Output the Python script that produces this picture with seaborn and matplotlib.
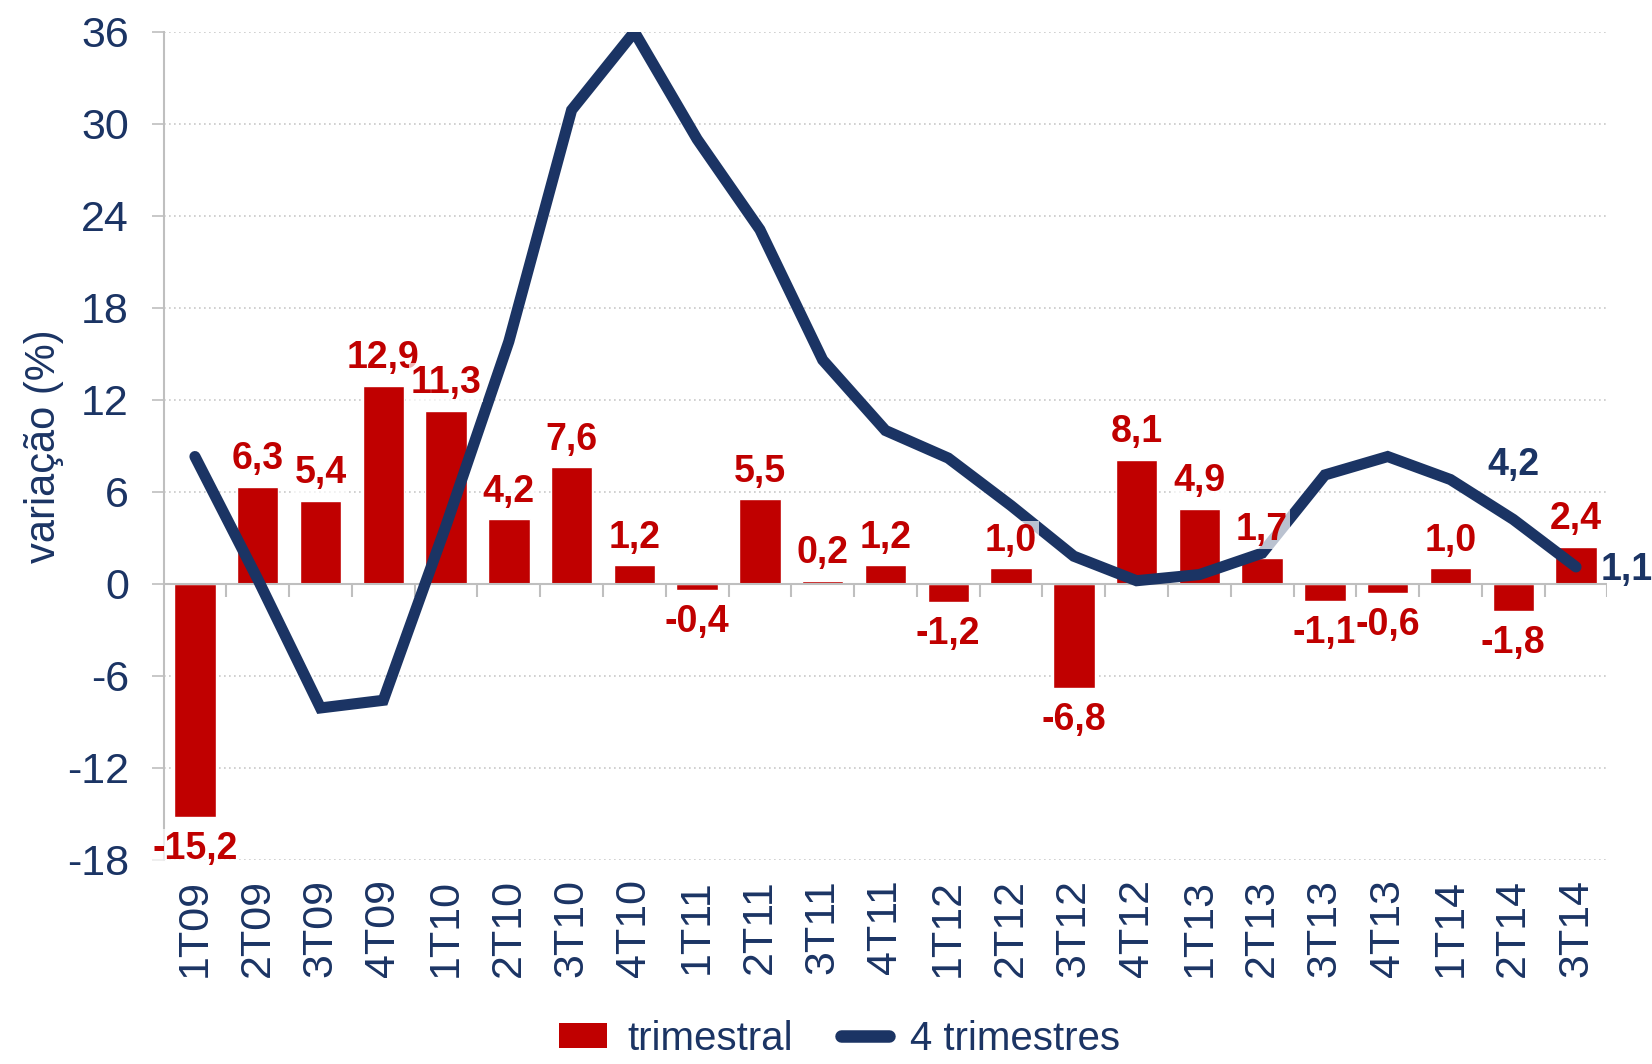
import matplotlib
matplotlib.use("Agg")
import matplotlib.pyplot as plt
import seaborn as sns
import pandas as pd
import numpy as np
from matplotlib.patches import Patch
from matplotlib.lines import Line2D

quarters = ["1T09", "2T09", "3T09", "4T09", "1T10", "2T10", "3T10", "4T10",
            "1T11", "2T11", "3T11", "4T11", "1T12", "2T12", "3T12", "4T12",
            "1T13", "2T13", "3T13", "4T13", "1T14", "2T14", "3T14"]
trimestral = [-15.2, 6.3, 5.4, 12.9, 11.3, 4.2, 7.6, 1.2, -0.4, 5.5, 0.2, 1.2,
              -1.2, 1.0, -6.8, 8.1, 4.9, 1.7, -1.1, -0.6, 1.0, -1.8, 2.4]
quatro_trim = [8.3, 0.3, -8.1, -7.6, 3.8, 15.8, 30.9, 36.0, 29.0, 23.1, 14.6, 10.0,
               8.2, 5.1, 1.8, 0.2, 0.6, 2.0, 7.1, 8.3, 6.8, 4.2, 1.1]
line_labels = {"2T14": "4,2", "3T14": "1,1"}
y_ticks = [-18, -12, -6, 0, 6, 12, 18, 24, 30, 36]

RED = "#C00000"
NAVY = "#1B3464"
GRAY = "#BFBFBF"

sns.set_theme(style="white")
plt.rcParams["font.family"] = ["Liberation Sans", "DejaVu Sans"]

df = pd.DataFrame({"q": quarters, "pos": np.arange(len(quarters)),
                   "tri": trimestral, "four": quatro_trim})

fig = plt.figure(figsize=(16.52, 10.64), dpi=100)
ax = fig.add_axes([0.099, 0.192, 0.874, 0.778])

sns.barplot(data=df, x="q", y="tri", order=quarters, color=RED, saturation=1,
            width=0.66, ax=ax, zorder=2)
sns.lineplot(data=df, x="pos", y="four", color=NAVY, lw=8, ax=ax, zorder=3,
             solid_capstyle="round", solid_joinstyle="miter")

ax.set_ylim(-18, 36)
ax.set_xlim(-0.5, len(quarters) - 0.5)
ax.set_yticks(y_ticks)
ax.set_yticklabels([str(t) for t in y_ticks], fontsize=31, color=NAVY)
ax.yaxis.grid(True, linestyle=(0, (1, 2)), color="#C8C8C8", linewidth=1.2)
ax.set_axisbelow(True)
ax.tick_params(axis="y", length=9, width=1.2, color=GRAY, pad=16, left=True)
ax.set_xticks(np.arange(len(quarters)))
ax.set_xticklabels(quarters, rotation=90, fontsize=31, color=NAVY)
ax.tick_params(axis="x", length=0, pad=14)
ax.set_xlabel("")
ax.set_ylabel("variação (%)", fontsize=30, color=NAVY, labelpad=2)

for s in ["top", "right", "bottom"]:
    ax.spines[s].set_visible(False)
ax.spines["left"].set_color(GRAY)
ax.spines["left"].set_linewidth(1.5)

# zero axis with category separators
ax.axhline(0, color=GRAY, lw=1.5, zorder=2.5)
seps = np.arange(len(quarters)) + 0.5
ax.vlines(seps, -0.85, 0, color=GRAY, lw=1.5, zorder=2.5)

box = dict(facecolor="white", edgecolor="none", alpha=0.7, pad=1)

# bar labels
for i, v in enumerate(trimestral):
    txt = f"{v:.1f}".replace(".", ",")
    if v >= 0:
        ax.annotate(txt, (i, v), xytext=(0, 7), textcoords="offset points",
                    ha="center", va="bottom", fontsize=27, fontweight="bold",
                    color=RED, zorder=4, bbox=box)
    else:
        ax.annotate(txt, (i, v), xytext=(0, -10), textcoords="offset points",
                    ha="center", va="top", fontsize=27, fontweight="bold",
                    color=RED, zorder=4, bbox=box)

# line labels
for q, txt in line_labels.items():
    i = quarters.index(q)
    v = quatro_trim[i]
    if q == quarters[-1]:
        ax.annotate(txt, (i, v), xytext=(18, -2), textcoords="offset points",
                    ha="left", va="center", fontsize=27, fontweight="bold",
                    color=NAVY, zorder=4, annotation_clip=False)
    else:
        ax.annotate(txt, (i, v), xytext=(0, 26), textcoords="offset points",
                    ha="center", va="bottom", fontsize=27, fontweight="bold",
                    color=NAVY, zorder=4)

handles = [Patch(facecolor=RED, edgecolor="none", label="trimestral"),
           Line2D([0], [0], color=NAVY, lw=9, solid_capstyle="round", label="4 trimestres")]
fig.legend(handles=handles, loc="lower center", bbox_to_anchor=(0.508, -0.028), ncol=2,
           frameon=False, fontsize=29, handlelength=1.2, handleheight=0.6,
           columnspacing=1.2, handletextpad=0.5, labelcolor=NAVY)

fig.savefig("out.png", dpi=100)
